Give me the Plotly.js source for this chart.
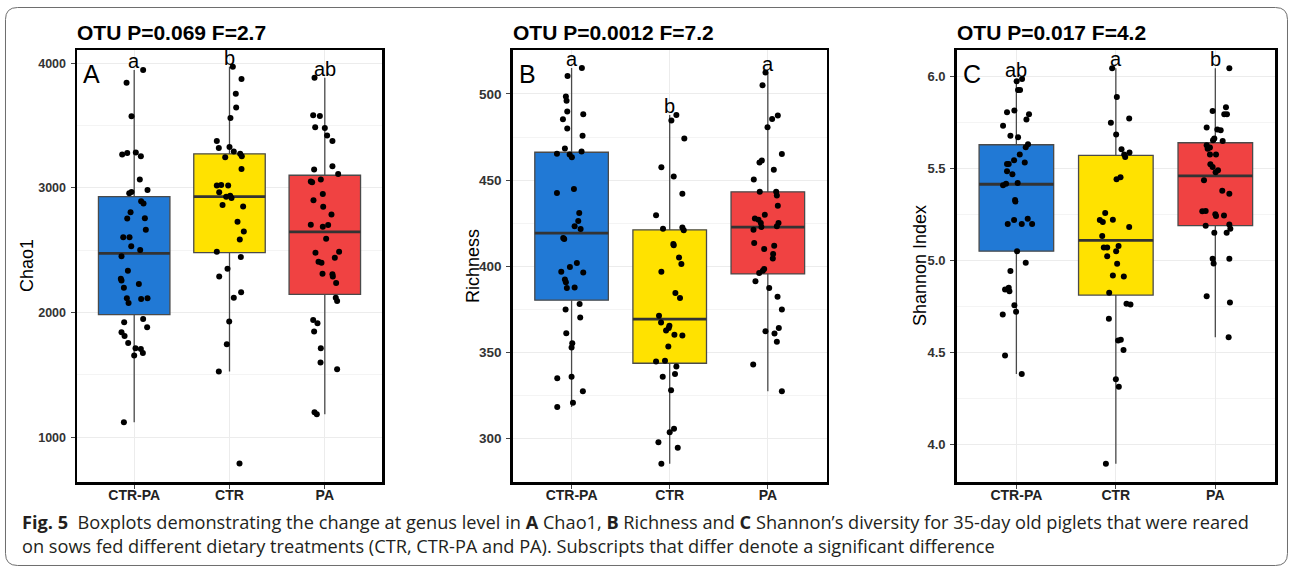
<!DOCTYPE html>
<html>
<head>
<meta charset="utf-8">
<script src="https://cdn.plot.ly/plotly-3.0.1.min.js"></script>
<style>
  html, body { margin: 0; padding: 0; background: #ffffff; }
  #chart { width: 1290px; height: 567px; }
</style>
</head>
<body>
<div id="chart"></div>
<script>
// ---------------- DATA ----------------
const categories = ['CTR-PA', 'CTR', 'PA'];
const panelTitles = ['OTU P=0.069 F=2.7', 'OTU P=0.0012 F=7.2', 'OTU P=0.017 F=4.2'];
const panelTags = ['A', 'B', 'C'];
const yTitles = ['Chao1', 'Richness', 'Shannon Index'];

// Panel A - Chao1
const chaoCtrPa = [3946, 3844, 3575, 3269, 3280, 3285, 3255, 3067, 2984, 2957, 2968, 2893, 2876, 2806, 2755, 2758, 2664, 2605, 2605, 2532, 2503, 2452, 2336, 2272, 2258, 2230, 2200, 2115, 2078, 2110, 2115, 1922, 1949, 1882, 1842, 1813, 1757, 1714, 1709, 1655, 1676, 1120];
const chaoCtr = [3973, 3874, 3755, 3645, 3562, 3376, 3320, 3328, 3293, 3247, 3274, 3255, 3153, 3019, 3024, 3019, 2965, 2930, 2919, 2938, 2863, 2852, 2729, 2651, 2586, 2489, 2446, 2352, 2290, 2163, 2120, 1928, 1746, 1527, 789];
const chaoPa = [3884, 3583, 3578, 3487, 3481, 3422, 3376, 3148, 3175, 3113, 3051, 3045, 3067, 2952, 2901, 2850, 2788, 2704, 2688, 2702, 2592, 2481, 2489, 2441, 2409, 2401, 2312, 2307, 2290, 2237, 2120, 2094, 1941, 1914, 1848, 1714, 1599, 1545, 1200, 1184];
const chaoQ1 = [1984, 2481, 2147];
const chaoMedian = [2476, 2930, 2648];
const chaoQ3 = [2930, 3274, 3102];
const chaoLow = [1120, 1527, 1184];
const chaoHigh = [3946, 3973, 3884];
const chaoLetters = ['a', 'b', 'ab'];
// jitter (category units)
const jitChaoCtrPa = [0.094, -0.08, -0.028, -0.126, -0.073, 0.017, 0.07, 0.059, 0.14, -0.052, -0.028, 0.073, 0.098, -0.038, -0.073, 0.112, 0.122, -0.115, -0.049, -0.031, 0.063, -0.133, -0.066, -0.14, -0.133, 0.049, -0.108, -0.077, -0.059, 0.073, 0.14, -0.105, 0.094, 0.136, -0.133, -0.101, -0.063, 0.014, 0.07, 0, 0.091, -0.108];
const jitChaoCtr = [0.035, 0.126, 0.066, 0.07, 0.01, -0.133, -0.112, 0, 0.045, -0.045, 0.112, 0.129, 0.126, -0.133, -0.087, -0.014, -0.108, -0.035, 0.021, 0.007, -0.073, 0.143, 0.084, 0.15, 0.108, -0.133, 0.119, -0.021, -0.108, 0.122, 0.045, -0.003, -0.028, -0.112, 0.105];
const jitChaoPa = [-0.108, -0.122, -0.052, -0.101, 0, 0.024, 0.08, -0.112, 0.08, 0.14, -0.147, -0.133, -0.042, -0.021, -0.119, -0.017, 0.07, -0.147, -0.021, 0.035, 0.014, -0.098, 0.15, 0.105, -0.066, -0.035, -0.024, 0.08, 0.084, 0.119, 0.115, 0.129, -0.122, -0.077, -0.112, -0.042, -0.045, 0.129, -0.108, -0.084];

// Panel B - Richness
const richCtrPa = [515.1, 510.4, 498.5, 496.1, 489.8, 488.2, 485.3, 479.9, 475.7, 468.3, 465.3, 464.9, 463.3, 466.6, 442.5, 444.8, 430.9, 426.3, 423.2, 421.6, 416.4, 415.8, 399.6, 402, 396.9, 396.5, 392.3, 390.8, 387.5, 387.7, 378.1, 375, 370.3, 361.2, 355.4, 352.9, 335.1, 336, 327.5, 320.9, 318.4];
const richCtr = [487.8, 484.6, 474.1, 457.5, 452.1, 442.1, 429.7, 421.8, 422.6, 421, 412.9, 412.3, 405.2, 401.4, 396.9, 384.6, 381.7, 371.3, 367.4, 365.5, 364.2, 362.8, 360.3, 359.9, 353.5, 344.8, 345.3, 341.9, 337.6, 335.9, 328.1, 305.8, 303.7, 297.9, 294.8, 285.5];
const richPa = [512.4, 505, 487.5, 485.5, 480.7, 465.1, 460.2, 461.4, 456, 450.4, 443.2, 443.2, 441.1, 435.1, 429.9, 427.8, 427, 425.1, 425.1, 423.2, 422.8, 421.3, 413.5, 412, 410.1, 407.2, 404.5, 398.5, 397.5, 396.2, 391.3, 387.5, 382.3, 375, 362.4, 361, 364.3, 356.2, 343, 327.5];
const richQ1 = [380.4, 343.8, 395.6];
const richMedian = [419.3, 369.4, 422.8];
const richQ3 = [466.2, 421.2, 443.2];
const richLow = [318.4, 285.5, 327.5];
const richHigh = [515.1, 487.8, 512.4];
const richLetters = ['a', 'b', 'a'];
const jitRichCtrPa = [0.105, -0.041, -0.058, -0.051, -0.044, 0.119, -0.088, -0.044, 0.112, -0.068, -0.149, -0.02, 0.003, 0.102, -0.149, 0.024, 0.078, 0.068, 0.031, 0.092, -0.085, -0.075, -0.017, 0.054, -0.105, 0.119, -0.068, -0.058, -0.048, 0.031, 0.082, -0.061, 0.088, -0.054, 0.007, 0, -0.146, 0, 0.115, 0.014, -0.146];
const jitRichCtr = [0.068, 0.017, 0.149, -0.085, 0.041, 0.129, -0.139, -0.068, 0.129, 0.143, 0.037, 0.041, 0.095, 0.119, -0.085, 0.058, 0.105, -0.109, -0.088, -0.003, -0.01, -0.037, 0.048, 0.129, -0.014, -0.139, -0.048, 0.068, 0.054, -0.071, 0.014, 0.044, 0, -0.115, 0.082, -0.085];
const jitRichPa = [-0.024, -0.054, 0.102, 0.044, -0.003, 0.143, -0.085, -0.061, 0.061, -0.143, -0.082, 0.085, 0.092, 0.102, -0.031, -0.132, -0.095, -0.071, 0.109, 0.092, -0.065, -0.146, -0.139, 0.065, -0.037, 0.054, 0.051, -0.037, -0.051, -0.088, -0.126, 0.014, 0.099, 0.143, -0.024, 0.068, 0.112, 0.092, -0.149, 0.143];

// Panel C - Shannon Index
const shanCtrPa = [5.984, 5.971, 5.924, 5.924, 5.804, 5.813, 5.792, 5.764, 5.73, 5.676, 5.668, 5.63, 5.614, 5.574, 5.543, 5.531, 5.523, 5.523, 5.484, 5.467, 5.42, 5.407, 5.416, 5.328, 5.319, 5.219, 5.197, 5.197, 5.226, 5.197, 5.05, 4.987, 4.942, 4.842, 4.851, 4.832, 4.757, 4.721, 4.707, 4.484, 4.384];
const shanCtr = [6.042, 5.886, 5.746, 5.77, 5.683, 5.603, 5.585, 5.574, 5.561, 5.44, 5.451, 5.257, 5.219, 5.208, 5.221, 5.181, 5.132, 5.07, 5.07, 5.078, 5.022, 5.05, 4.982, 4.918, 4.913, 4.824, 4.765, 4.761, 4.683, 4.565, 4.569, 4.514, 4.355, 4.315, 3.897];
const shanPa = [6.042, 5.81, 5.83, 5.792, 5.792, 5.721, 5.71, 5.706, 5.661, 5.652, 5.648, 5.625, 5.612, 5.605, 5.574, 5.574, 5.522, 5.507, 5.489, 5.478, 5.435, 5.377, 5.362, 5.266, 5.268, 5.25, 5.241, 5.243, 5.188, 5.194, 5.172, 5.15, 5.15, 5.009, 4.983, 5.009, 4.805, 4.772, 4.583];
const shanQ1 = [5.05, 4.812, 5.188];
const shanMedian = [5.413, 5.108, 5.458];
const shanQ3 = [5.627, 5.569, 5.638];
const shanLow = [4.384, 3.897, 4.583];
const shanHigh = [5.984, 6.042, 6.042];
const shanLetters = ['ab', 'a', 'b'];
const jitShanCtrPa = [0.057, 0.003, 0.017, 0.037, -0.094, -0.02, 0.127, 0.101, -0.134, -0.06, 0.017, 0.117, 0.094, 0.034, -0.023, 0.084, -0.094, -0.077, -0.094, -0.04, 0.013, -0.134, -0.104, -0.013, -0.01, -0.023, -0.087, 0.054, 0.114, 0.158, 0.007, 0.094, -0.06, -0.114, -0.077, -0.07, -0.02, -0.003, -0.137, -0.114, 0.054];
const jitShanCtr = [-0.037, 0.01, -0.05, 0.134, 0.003, 0.057, 0.137, 0.084, 0.094, 0.007, 0.047, -0.107, -0.161, -0.131, -0.03, 0.134, -0.137, -0.121, -0.087, 0.027, -0.087, 0.003, 0.013, -0.03, 0.08, -0.067, 0.107, 0.147, -0.07, 0.023, 0.05, 0.077, 0, 0.03, -0.1];
const jitShanPa = [0.141, -0.027, 0.107, 0.09, 0.117, -0.087, 0.02, 0.054, -0.01, -0.023, 0.074, -0.087, -0.054, -0.077, 0.007, -0.054, -0.05, -0.027, 0.027, 0.003, -0.114, 0.07, 0.141, -0.131, -0.097, 0, 0.007, 0.087, -0.097, 0.141, 0.151, 0.114, -0.01, -0.027, -0.017, 0.141, -0.087, 0.147, 0.134];

const captionLine1 = '<b>Fig. 5</b>&nbsp;&nbsp;Boxplots demonstrating the change at genus level in <b>A</b> Chao1, <b>B</b> Richness and <b>C</b> Shannon’s diversity for 35-day old piglets that were reared';
const captionLine2 = 'on sows fed different dietary treatments (CTR, CTR-PA and PA). Subscripts that differ denote a significant difference';

// ---------------- STYLE / LAYOUT ----------------
const W = 1290, H = 567;
const boxColors = ['#2179d5', '#ffe200', '#f04242'];
const FONT = 'Liberation Sans, Arial, Helvetica, sans-serif';
const BOXW = 0.75;

const panels = [
  { groups: [chaoCtrPa, chaoCtr, chaoPa], jit: [jitChaoCtrPa, jitChaoCtr, jitChaoPa],
    q1: chaoQ1, med: chaoMedian, q3: chaoQ3, lo: chaoLow, hi: chaoHigh, letters: chaoLetters,
    xa: 'x', ya: 'y', xl: 77, xr: 382, yRange: [641, 4107], dtick: 1000, minor: 500, fmt: 'd', tickSize: 12.5, ytx: 27 },
  { groups: [richCtrPa, richCtr, richPa], jit: [jitRichCtrPa, jitRichCtr, jitRichPa],
    q1: richQ1, med: richMedian, q3: richQ3, lo: richLow, hi: richHigh, letters: richLetters,
    xa: 'x2', ya: 'y2', xl: 512.7, xr: 826.7, yRange: [274.9, 525.5], dtick: 50, minor: 25, fmt: 'd', tickSize: 13.5, ytx: 473 },
  { groups: [shanCtrPa, shanCtr, shanPa], jit: [jitShanCtrPa, jitShanCtr, jitShanPa],
    q1: shanQ1, med: shanMedian, q3: shanQ3, lo: shanLow, hi: shanHigh, letters: shanLetters,
    xa: 'x3', ya: 'y3', xl: 956.7, xr: 1275, yRange: [3.798, 6.141], dtick: 0.5, minor: 0.25, fmt: '.1f', tickSize: 13, ytx: 920 }
];

const plotTop = 50, plotBottom = 482;
const traces = [];
const annotations = [];
const layout = {
  width: W, height: H,
  margin: { l: 0, r: 0, t: 0, b: 0, pad: 0 },
  paper_bgcolor: '#ffffff', plot_bgcolor: '#ffffff',
  showlegend: false, boxmode: 'overlay',
  font: { family: FONT, color: '#000' },
  annotations: annotations,
  shapes: []
};

panels.forEach((p, pi) => {
  // boxes
  categories.forEach((c, i) => {
    traces.push({
      type: 'box', x: [i + 1], q1: [p.q1[i]], median: [p.med[i]], q3: [p.q3[i]],
      lowerfence: [p.lo[i]], upperfence: [p.hi[i]],
      width: BOXW, whiskerwidth: 0, boxpoints: false,
      fillcolor: boxColors[i], line: { color: '#4a4a4a', width: 1.3 },
      xaxis: p.xa, yaxis: p.ya, hoverinfo: 'skip', showlegend: false
    });
  });
  // thick median lines
  categories.forEach((c, i) => {
    traces.push({
      type: 'scatter', mode: 'lines',
      x: [i + 1 - BOXW / 2, i + 1 + BOXW / 2], y: [p.med[i], p.med[i]],
      line: { color: '#333333', width: 2.8 },
      xaxis: p.xa, yaxis: p.ya, hoverinfo: 'skip', showlegend: false
    });
  });
  // jittered points
  categories.forEach((c, i) => {
    traces.push({
      type: 'scatter', mode: 'markers',
      x: p.jit[i].map(j => i + 1 + j), y: p.groups[i],
      marker: { color: '#000000', size: 6 },
      xaxis: p.xa, yaxis: p.ya, hoverinfo: 'skip', showlegend: false
    });
    annotations.push({
      xref: p.xa, yref: p.ya, x: i + 1, y: Math.max(...p.groups[i]),
      text: p.letters[i], showarrow: false, yanchor: 'bottom', xanchor: 'center', yshift: -4,
      font: { family: FONT, size: 20, color: '#000' }
    });
  });

  const sfx = pi === 0 ? '' : String(pi + 1);
  const common = {
    showline: true, mirror: true, linecolor: '#000', linewidth: 2.5,
    ticks: 'outside', ticklen: 4, tickcolor: '#444', tickwidth: 1,
    showgrid: true, gridcolor: '#ececec', gridwidth: 1, zeroline: false, fixedrange: true
  };
  layout['xaxis' + sfx] = Object.assign({}, common, {
    domain: [p.xl / W, p.xr / W], range: [0.4, 3.6], tickvals: [1, 2, 3], ticktext: categories,
    anchor: p.ya, ticklabelstandoff: -5,
    tickfont: { family: FONT, size: 14, weight: 'bold', color: '#222' }
  });
  layout['yaxis' + sfx] = Object.assign({}, common, {
    domain: [1 - plotBottom / H, 1 - plotTop / H], range: p.yRange, dtick: p.dtick, tick0: 0,
    tickformat: p.fmt, anchor: p.xa, ticklabelstandoff: 2,
    minor: { dtick: p.minor, showgrid: true, gridcolor: '#f4f4f4', gridwidth: 1, ticks: '' },
    tickfont: { family: FONT, size: p.tickSize, weight: 'bold', color: '#333' }
  });

  // panel title
  annotations.push({
    xref: 'paper', yref: 'paper', x: (p.xl - 2) / W, y: 1 - 32.5 / H, xanchor: 'left', yanchor: 'middle',
    text: panelTitles[pi], showarrow: false,
    font: { family: FONT, size: 21, weight: 'bold', color: '#000' }
  });
  // panel tag
  annotations.push({
    xref: p.xa + ' domain', yref: p.ya + ' domain', x: 0, y: 1, xanchor: 'left', yanchor: 'top',
    xshift: 4, yshift: -8, text: panelTags[pi], showarrow: false,
    font: { family: FONT, size: 25, color: '#000' }
  });
  // y axis title
  annotations.push({
    xref: 'paper', yref: 'paper', x: p.ytx / W, y: 1 - 266 / H, xanchor: 'center', yanchor: 'middle',
    text: yTitles[pi], textangle: -90, showarrow: false,
    font: { family: FONT, size: 18, color: '#000' }
  });
});

// caption
annotations.push({
  xref: 'paper', yref: 'paper', x: 20 / W, y: 1 - 522 / H, xanchor: 'left', yanchor: 'middle',
  text: captionLine1, showarrow: false, font: { family: 'Open Sans, Noto Sans, sans-serif', size: 18.2, color: '#231f20' }
});
annotations.push({
  xref: 'paper', yref: 'paper', x: 20 / W, y: 1 - 546 / H, xanchor: 'left', yanchor: 'middle',
  text: captionLine2, showarrow: false, font: { family: 'Open Sans, Noto Sans, sans-serif', size: 18.2, color: '#231f20' }
});

// outer rounded frame
const px = x => (x / W).toFixed(5);
const py = y => (1 - y / H).toFixed(5);
const L = 5.5, R = 1287.5, T = 7.5, B = 565.5, r = 12;
layout.shapes.push({
  type: 'path', xref: 'paper', yref: 'paper',
  path: `M ${px(L + r)},${py(T)} L ${px(R - r)},${py(T)} Q ${px(R)},${py(T)} ${px(R)},${py(T + r)} L ${px(R)},${py(B - r)} Q ${px(R)},${py(B)} ${px(R - r)},${py(B)} L ${px(L + r)},${py(B)} Q ${px(L)},${py(B)} ${px(L)},${py(B - r)} L ${px(L)},${py(T + r)} Q ${px(L)},${py(T)} ${px(L + r)},${py(T)} Z`,
  line: { color: '#6e6e6e', width: 1 }, fillcolor: 'rgba(0,0,0,0)', layer: 'below'
});

Plotly.newPlot('chart', traces, layout, { staticPlot: true, displayModeBar: false });
</script>
</body>
</html>
